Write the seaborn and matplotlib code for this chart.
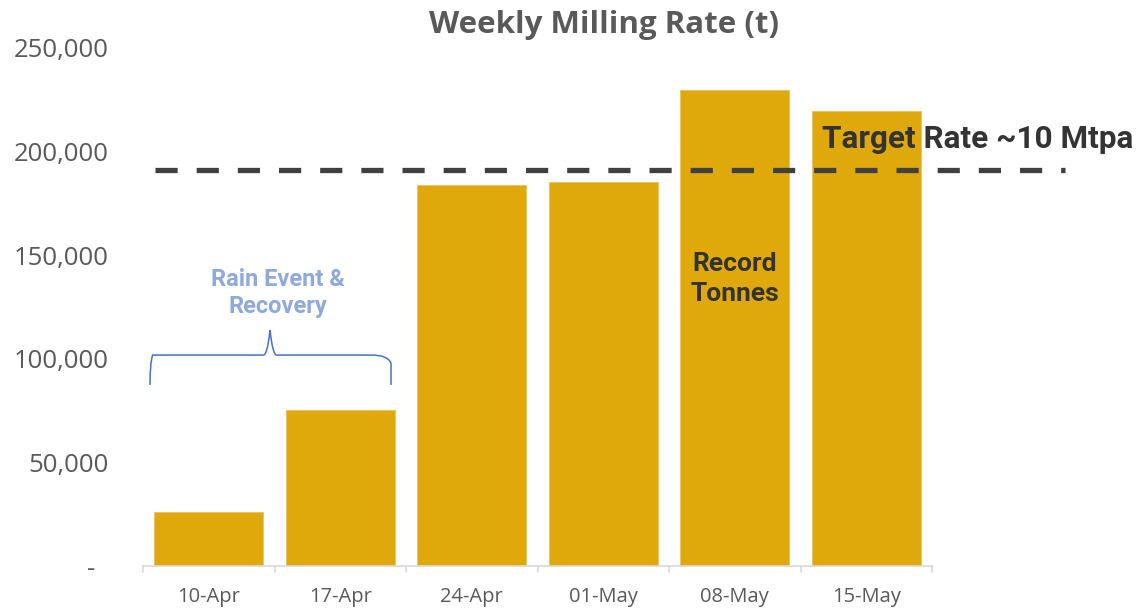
import matplotlib
matplotlib.use("Agg")
import matplotlib.pyplot as plt
import seaborn as sns
import pandas as pd
from matplotlib.path import Path
from matplotlib.patches import PathPatch

weeks = ["10-Apr", "17-Apr", "24-Apr", "01-May", "08-May", "15-May"]
tonnes = [26000, 75500, 184000, 185300, 229700, 219600]
target = 191000
yticks = [0, 50000, 100000, 150000, 200000, 250000]
ytick_labels = ["-  ", "50,000", "100,000", "150,000", "200,000", "250,000"]

sns.set_theme(style="white")
plt.rcParams["font.family"] = ["Open Sans", "DejaVu Sans"]

W, H = 1143, 609
fig = plt.figure(figsize=(W / 100, H / 100), dpi=100)
ax = fig.add_axes([143 / W, 1 - 566 / H, (932 - 143) / W, (566 - 48) / H])

df = pd.DataFrame({"week": weeks, "tonnes": tonnes})
sns.barplot(data=df, x="week", y="tonnes", color="#E0A90B", saturation=1,
            width=0.83, ax=ax, edgecolor="#EBC25A", linewidth=0.6)

ax.set_xlim(-0.5, 5.5)
ax.set_ylim(0, 250000)
ax.set_yticks(yticks)
ax.set_yticklabels(ytick_labels)
ax.set_xlabel("")
ax.set_ylabel("")
for s in ["top", "right", "left"]:
    ax.spines[s].set_visible(False)
ax.spines["bottom"].set_color("#D9D9D9")
ax.spines["bottom"].set_linewidth(1.2)
ax.tick_params(axis="y", length=0, labelsize=18.5, labelcolor="#595959", pad=25)
ax.tick_params(axis="x", length=0, labelsize=14.5, labelcolor="#595959", pad=15)
# category boundary ticks
for b in [i - 0.5 for i in range(len(weeks) + 1)]:
    ax.plot([b, b], [0, -3000], color="#D9D9D9", lw=1.2, clip_on=False)

# target line
ax.plot([-0.41, 6.51], [target, target], color="#404040", lw=3.8,
        dashes=(4.2, 3.6), clip_on=False, zorder=5)
ax.text(4.66, 206000, "Target Rate ~10 Mtpa", ha="left", va="center",
        fontsize=22.7, fontweight="bold", color="#333333", family="Roboto",
        zorder=6, clip_on=False)

# brace
x0, x1, xm = -0.447, 1.386, 0.466
yb, yh, yt = 87400, 101800, 113900
verts = [(x0, yb), (x0, yh - 4000), (x0 + 0.02, yh), (x0 + 0.15, yh),
         (xm - 0.05, yh), (xm - 0.02, yh), (xm, yt),
         (xm + 0.02, yh), (xm + 0.05, yh),
         (x1 - 0.15, yh), (x1 - 0.02, yh), (x1, yh - 4000), (x1, yb)]
codes = [Path.MOVETO, Path.CURVE3, Path.CURVE3, Path.LINETO,
         Path.LINETO, Path.CURVE3, Path.CURVE3,
         Path.CURVE3, Path.CURVE3,
         Path.LINETO, Path.CURVE3, Path.CURVE3, Path.LINETO]
ax.add_patch(PathPatch(Path(verts, codes), fill=False, edgecolor="#4472C4",
                       lw=1.1, clip_on=False))
ax.text(0.527, 131700, "Rain Event &\nRecovery", ha="center", va="center",
        fontsize=17, fontweight="bold", color="#8EA9DB", family="Roboto",
        linespacing=1.2)

ax.text(4, 138500, "Record\nTonnes", ha="center", va="center",
        fontsize=19, fontweight="bold", color="#333333", family="Roboto",
        linespacing=1.32)

fig.text(604 / W, 1 - 25 / H, "Weekly Milling Rate (t)", ha="center",
         va="center", fontsize=22.5, fontweight="bold", color="#595959")

fig.savefig("out.png", dpi=100)
